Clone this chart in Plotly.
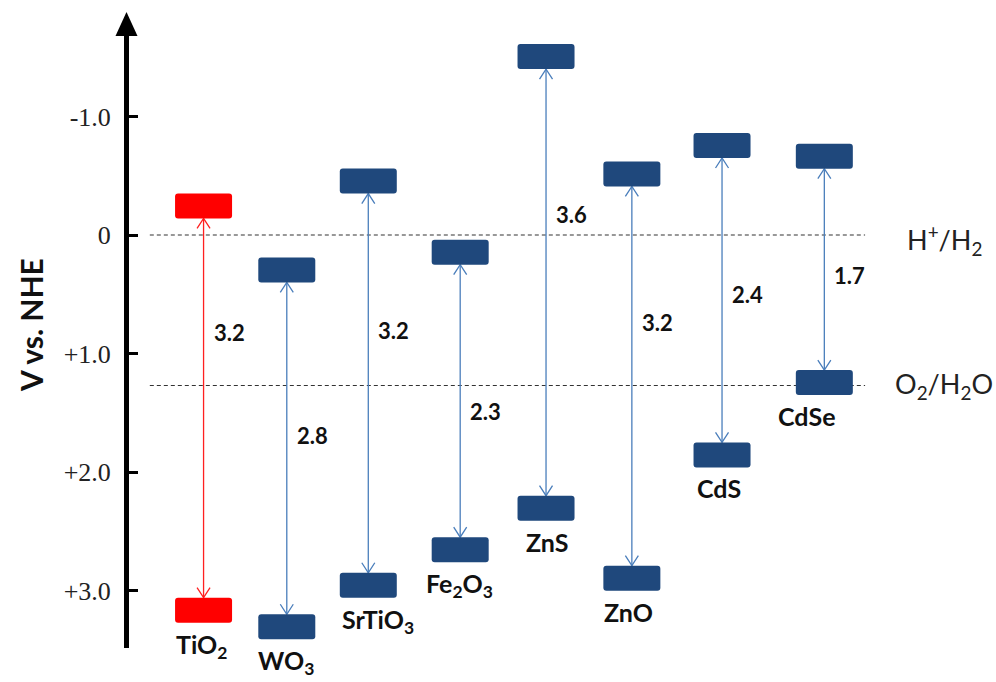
import plotly.graph_objects as go

# Band-edge data (V vs. NHE; positive values plotted downward)
materials = ["TiO<sub>2</sub>", "WO<sub>3</sub>", "SrTiO<sub>3</sub>", "Fe<sub>2</sub>O<sub>3</sub>",
             "ZnS", "ZnO", "CdS", "CdSe"]
conduction_band = [-0.14, 0.40, -0.35, 0.25, -1.40, -0.41, -0.65, -0.56]
band_gap = [3.2, 2.8, 3.2, 2.3, 3.6, 3.2, 2.4, 1.7]
valence_band = [round(c + g, 2) for c, g in zip(conduction_band, band_gap)]

redox_couples = ["H<sup>+</sup>/H<sub>2</sub>", "O<sub>2</sub>/H<sub>2</sub>O"]
redox_potential = [0.0, 1.27]

tick_values = [-1.0, 0.0, 1.0, 2.0, 3.0]
tick_labels = ["-1.0", "0", "+1.0", "+2.0", "+3.0"]

# ---- layout constants ----
column_x = [0.86, 1.82, 2.76, 3.82, 4.81, 5.80, 6.84, 8.02]
gap_label_frac = [0.30, 0.46, 0.36, 0.54, 0.34, 0.36, 0.48, 0.53]
name_dx = [-2, -1, 10, -1, 1, -3, -3, -18]
redox_label_x = [8.95, 8.81]
redox_label_dy = [-5, 0]
bar_colors = ["#FF0000"] + ["#1F487C"] * 7
arrow_colors = ["#FF2020"] + ["#4A7EBB"] * 7
BAR_HALF_W = 28.5   # px
BAR_H = 25          # px
R = 3               # corner radius, px
SANS = "Lato, 'Open Sans', sans-serif"
SERIF = "'Liberation Serif', 'Times New Roman', serif"

def rounded_rect(y_lo, y_hi):
    w = BAR_HALF_W
    return (f"M {-w+R},{y_lo} L {w-R},{y_lo} Q {w},{y_lo} {w},{y_lo+R} "
            f"L {w},{y_hi-R} Q {w},{y_hi} {w-R},{y_hi} L {-w+R},{y_hi} "
            f"Q {-w},{y_hi} {-w},{y_hi-R} L {-w},{y_lo+R} Q {-w},{y_lo} {-w+R},{y_lo} Z")

fig = go.Figure()
shapes = []
annotations = []

for i, name in enumerate(materials):
    xc = column_x[i]
    cb, vb, eg = conduction_band[i], valence_band[i], band_gap[i]
    # gap arrow shaft
    fig.add_trace(go.Scatter(x=[xc, xc], y=[cb, vb], mode="lines",
                             line=dict(color=arrow_colors[i], width=1.3),
                             hoverinfo="skip", showlegend=False))
    # open arrowheads at both band edges
    for anchor, path in ((cb, "M -6.5,-10 L 0,0 L 6.5,-10"),
                         (vb, "M -6.5,10 L 0,0 L 6.5,10")):
        shapes.append(dict(type="path", xref="x", yref="y",
                           xsizemode="pixel", ysizemode="pixel",
                           xanchor=xc, yanchor=anchor, path=path,
                           line=dict(color=arrow_colors[i], width=1.3)))
    # conduction band block (sits above its edge) and valence band block (below)
    shapes.append(dict(type="path", xref="x", yref="y",
                       xsizemode="pixel", ysizemode="pixel",
                       xanchor=xc, yanchor=cb, path=rounded_rect(0, BAR_H),
                       fillcolor=bar_colors[i], line=dict(width=0)))
    shapes.append(dict(type="path", xref="x", yref="y",
                       xsizemode="pixel", ysizemode="pixel",
                       xanchor=xc, yanchor=vb, path=rounded_rect(-BAR_H, 0),
                       fillcolor=bar_colors[i], line=dict(width=0)))
    # band gap value
    annotations.append(dict(x=xc, y=cb + gap_label_frac[i] * eg, xref="x", yref="y",
                            text=f"<b>{eg:.1f}</b>", showarrow=False,
                            xanchor="left", yanchor="middle", xshift=8,
                            font=dict(family=SANS, size=22, color="#111111")))
    # material name below the valence band block
    annotations.append(dict(x=xc, y=vb, xref="x", yref="y",
                            text=f"<b>{name}</b>", showarrow=False,
                            xanchor="center", yanchor="top",
                            xshift=name_dx[i], yshift=-(BAR_H + 4),
                            font=dict(family=SANS, size=25, color="#111111")))

# redox reference levels
for label, pot, lx, dy in zip(redox_couples, redox_potential, redox_label_x, redox_label_dy):
    shapes.append(dict(type="line", xref="x", yref="y", x0=0.24, x1=8.49,
                       y0=pot, y1=pot, layer="below",
                       line=dict(color="#333333", width=1.2, dash="4px,3px")))
    annotations.append(dict(x=lx, y=pot, xref="x", yref="y", text=label,
                            showarrow=False, xanchor="left", yanchor="middle",
                            yshift=dy, font=dict(family=SANS, size=27, color="#222222")))

# arrowhead on top of the potential axis
shapes.append(dict(type="path", xref="paper", yref="paper",
                   xsizemode="pixel", ysizemode="pixel", xanchor=0, yanchor=1,
                   path="M -13.5,-6 L -2.5,18 L 8.5,-6 Z",
                   fillcolor="black", line=dict(width=0)))

# axis title
annotations.append(dict(x=0, y=0.76, xref="paper", yref="y", xshift=-98,
                        text="<b>V vs. NHE</b>", textangle=-90, showarrow=False,
                        xanchor="center", yanchor="middle",
                        font=dict(family=SANS, size=30, color="#111111")))

fig.update_layout(
    width=996, height=682,
    margin=dict(l=129, r=0, t=30, b=34),
    plot_bgcolor="white", paper_bgcolor="white",
    shapes=shapes, annotations=annotations,
    xaxis=dict(range=[0, 10], visible=False, fixedrange=True),
    yaxis=dict(range=[3.485, -1.730], showgrid=False, zeroline=False,
               showline=True, linewidth=5, linecolor="black",
               ticks="inside", ticklen=9, tickwidth=3, tickcolor="black",
               tickvals=tick_values, ticktext=tick_labels,
               ticklabelstandoff=8,
               tickfont=dict(family=SERIF, size=26, color="#222222")),
)

fig.write_html("out.html")
